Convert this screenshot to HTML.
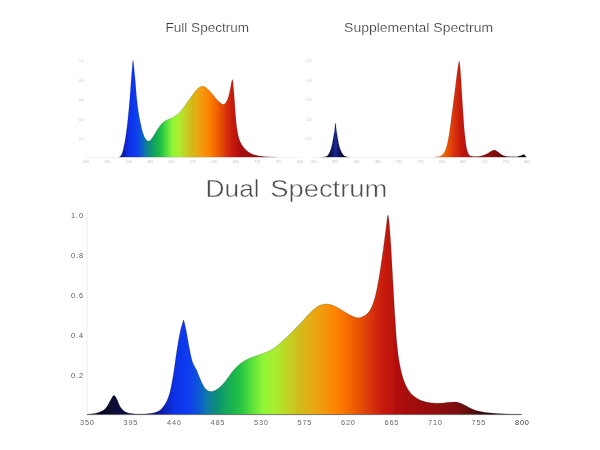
<!DOCTYPE html>
<html><head><meta charset="utf-8"><title>Spectrum</title>
<style>
html,body{margin:0;padding:0;background:#fff;}
body{width:600px;height:450px;overflow:hidden;font-family:"Liberation Sans",sans-serif;}
svg{display:block;}
</style></head><body>
<svg width="600" height="450" viewBox="0 0 600 450">
<defs>
<linearGradient id="gB" gradientUnits="userSpaceOnUse" x1="87" y1="0" x2="521" y2="0"><stop offset="0.0000" stop-color="#05051e"/><stop offset="0.0489" stop-color="#07072a"/><stop offset="0.0778" stop-color="#0c0c44"/><stop offset="0.1222" stop-color="#0b0b50"/><stop offset="0.1667" stop-color="#0d1a9a"/><stop offset="0.2000" stop-color="#0a30e6"/><stop offset="0.2333" stop-color="#0a3cf0"/><stop offset="0.2578" stop-color="#0a58d4"/><stop offset="0.2756" stop-color="#0a78a8"/><stop offset="0.2956" stop-color="#0c8c7c"/><stop offset="0.3222" stop-color="#14a85a"/><stop offset="0.3511" stop-color="#22c044"/><stop offset="0.3756" stop-color="#50dc3c"/><stop offset="0.4044" stop-color="#90f538"/><stop offset="0.4333" stop-color="#aaee30"/><stop offset="0.4622" stop-color="#c0d426"/><stop offset="0.4889" stop-color="#d0bc1c"/><stop offset="0.5156" stop-color="#e4ac14"/><stop offset="0.5444" stop-color="#f4980a"/><stop offset="0.5778" stop-color="#ff8000"/><stop offset="0.6044" stop-color="#f46804"/><stop offset="0.6333" stop-color="#e44c06"/><stop offset="0.6622" stop-color="#d42c0a"/><stop offset="0.6889" stop-color="#c4180c"/><stop offset="0.7156" stop-color="#b20e0c"/><stop offset="0.7444" stop-color="#a40a0a"/><stop offset="0.7778" stop-color="#9a0a0a"/><stop offset="0.8178" stop-color="#8c0a0c"/><stop offset="0.8511" stop-color="#800c10"/><stop offset="0.8844" stop-color="#5a080a"/><stop offset="0.9156" stop-color="#300606"/><stop offset="0.9511" stop-color="#100303"/><stop offset="1.0000" stop-color="#050202"/></linearGradient>
<linearGradient id="gL" gradientUnits="userSpaceOnUse" x1="86" y1="0" x2="300" y2="0"><stop offset="0.0000" stop-color="#05051e"/><stop offset="0.0489" stop-color="#07072a"/><stop offset="0.0778" stop-color="#0c0c44"/><stop offset="0.1222" stop-color="#0b0b50"/><stop offset="0.1667" stop-color="#0d1a9a"/><stop offset="0.2000" stop-color="#0a30e6"/><stop offset="0.2333" stop-color="#0a3cf0"/><stop offset="0.2578" stop-color="#0a58d4"/><stop offset="0.2756" stop-color="#0a78a8"/><stop offset="0.2956" stop-color="#0c8c7c"/><stop offset="0.3222" stop-color="#14a85a"/><stop offset="0.3511" stop-color="#22c044"/><stop offset="0.3756" stop-color="#50dc3c"/><stop offset="0.4044" stop-color="#90f538"/><stop offset="0.4333" stop-color="#aaee30"/><stop offset="0.4622" stop-color="#c0d426"/><stop offset="0.4889" stop-color="#d0bc1c"/><stop offset="0.5156" stop-color="#e4ac14"/><stop offset="0.5444" stop-color="#f4980a"/><stop offset="0.5778" stop-color="#ff8000"/><stop offset="0.6044" stop-color="#f46804"/><stop offset="0.6333" stop-color="#e44c06"/><stop offset="0.6622" stop-color="#d42c0a"/><stop offset="0.6889" stop-color="#c4180c"/><stop offset="0.7156" stop-color="#b20e0c"/><stop offset="0.7444" stop-color="#a40a0a"/><stop offset="0.7778" stop-color="#9a0a0a"/><stop offset="0.8178" stop-color="#8c0a0c"/><stop offset="0.8511" stop-color="#800c10"/><stop offset="0.8844" stop-color="#5a080a"/><stop offset="0.9156" stop-color="#300606"/><stop offset="0.9511" stop-color="#100303"/><stop offset="1.0000" stop-color="#050202"/></linearGradient>
<linearGradient id="gR" gradientUnits="userSpaceOnUse" x1="314" y1="0" x2="528" y2="0"><stop offset="0.0000" stop-color="#05051e"/><stop offset="0.0489" stop-color="#07072a"/><stop offset="0.0778" stop-color="#0c0c44"/><stop offset="0.1222" stop-color="#0b0b50"/><stop offset="0.1667" stop-color="#0d1a9a"/><stop offset="0.2000" stop-color="#0a30e6"/><stop offset="0.2333" stop-color="#0a3cf0"/><stop offset="0.2578" stop-color="#0a58d4"/><stop offset="0.2756" stop-color="#0a78a8"/><stop offset="0.2956" stop-color="#0c8c7c"/><stop offset="0.3222" stop-color="#14a85a"/><stop offset="0.3511" stop-color="#22c044"/><stop offset="0.3756" stop-color="#50dc3c"/><stop offset="0.4044" stop-color="#90f538"/><stop offset="0.4333" stop-color="#aaee30"/><stop offset="0.4622" stop-color="#c0d426"/><stop offset="0.4889" stop-color="#d0bc1c"/><stop offset="0.5156" stop-color="#e4ac14"/><stop offset="0.5444" stop-color="#f4980a"/><stop offset="0.5778" stop-color="#ff8000"/><stop offset="0.6044" stop-color="#f46804"/><stop offset="0.6333" stop-color="#e44c06"/><stop offset="0.6622" stop-color="#d42c0a"/><stop offset="0.6889" stop-color="#c4180c"/><stop offset="0.7156" stop-color="#b20e0c"/><stop offset="0.7444" stop-color="#a40a0a"/><stop offset="0.7778" stop-color="#9a0a0a"/><stop offset="0.8178" stop-color="#8c0a0c"/><stop offset="0.8511" stop-color="#800c10"/><stop offset="0.8844" stop-color="#5a080a"/><stop offset="0.9156" stop-color="#300606"/><stop offset="0.9511" stop-color="#100303"/><stop offset="1.0000" stop-color="#050202"/></linearGradient>
<linearGradient id="gRb" gradientUnits="userSpaceOnUse" x1="327.5" y1="0" x2="343.5" y2="0"><stop offset="0" stop-color="#060626"/><stop offset="0.3" stop-color="#0d1666"/><stop offset="0.5" stop-color="#152692"/><stop offset="0.7" stop-color="#0d1666"/><stop offset="1" stop-color="#060626"/></linearGradient>
<filter id="bl" x="-5%" y="-5%" width="110%" height="110%"><feGaussianBlur stdDeviation="0.45"/></filter>
<filter id="bl2" x="-5%" y="-5%" width="110%" height="110%"><feGaussianBlur stdDeviation="0.6"/></filter>
</defs>
<rect width="600" height="450" fill="#ffffff"/>
<g filter="url(#bl)">
<path d="M119.2,157.0 C119.5,156.7 120.6,156.4 121.2,155.3 C121.8,154.2 122.4,152.7 123.0,150.5 C123.6,148.3 124.2,145.2 124.8,142.0 C125.4,138.8 125.9,135.7 126.5,131.0 C127.1,126.3 127.8,120.7 128.4,114.0 C129.1,107.3 129.8,98.7 130.4,91.0 C131.0,83.3 131.7,73.0 132.2,68.0 C132.7,63.0 132.7,59.0 133.2,61.0 C133.7,63.0 134.6,73.5 135.2,80.0 C135.8,86.5 136.3,94.5 136.9,100.0 C137.5,105.5 138.0,109.2 138.6,113.0 C139.2,116.8 139.8,119.4 140.4,122.5 C141.1,125.6 141.7,128.9 142.5,131.5 C143.3,134.1 144.1,136.4 145.0,138.0 C145.9,139.6 147.0,140.8 148.0,141.0 C149.0,141.2 149.8,140.8 151.0,139.5 C152.2,138.2 153.7,135.6 155.0,133.5 C156.3,131.4 157.7,128.8 159.0,127.0 C160.3,125.2 161.7,123.7 163.0,122.5 C164.3,121.3 165.7,120.7 167.0,120.0 C168.3,119.3 169.7,119.0 171.0,118.3 C172.3,117.6 173.7,116.9 175.0,116.0 C176.3,115.1 177.7,114.3 179.0,113.0 C180.3,111.7 181.7,110.0 183.0,108.3 C184.3,106.5 185.7,104.4 187.0,102.5 C188.3,100.6 189.7,98.8 191.0,97.0 C192.3,95.2 193.7,93.1 195.0,91.5 C196.3,89.9 197.8,88.4 199.0,87.5 C200.2,86.6 201.3,86.3 202.5,86.3 C203.7,86.3 204.6,86.5 206.0,87.5 C207.4,88.5 209.3,90.7 211.0,92.5 C212.7,94.3 214.4,96.8 216.0,98.5 C217.6,100.2 219.2,102.0 220.5,103.0 C221.8,104.0 222.6,104.3 223.5,104.2 C224.4,104.1 225.2,103.8 226.0,102.5 C226.8,101.2 227.8,98.9 228.5,96.5 C229.2,94.1 229.8,90.8 230.5,88.0 C231.2,85.2 231.9,78.7 232.5,79.7 C233.1,80.7 233.5,88.1 234.0,94.0 C234.5,99.9 235.0,109.2 235.5,115.0 C236.0,120.8 236.4,125.1 237.0,129.0 C237.6,132.9 238.2,135.8 239.0,138.5 C239.8,141.2 240.8,143.1 242.0,145.0 C243.2,146.9 244.5,148.6 246.0,150.0 C247.5,151.4 249.0,152.5 251.0,153.5 C253.0,154.5 255.5,155.3 258.0,155.8 C260.5,156.3 263.0,156.5 266.0,156.7 C269.0,156.9 274.3,156.9 276.0,157.0 L276.0,157.3 L119.2,157.3 Z" fill="url(#gL)"/>
<path d="M321.0,157.3 C321.7,157.2 324.0,157.0 325.0,156.8 C326.0,156.6 326.5,156.6 327.2,156.0 C327.9,155.4 328.6,154.6 329.3,153.0 C330.0,151.4 331.0,149.0 331.6,146.7 C332.2,144.3 332.7,141.5 333.1,138.9 C333.6,136.3 334.1,133.7 334.5,131.0 C334.9,128.3 335.2,123.0 335.5,123.0 C335.8,123.0 336.1,128.3 336.5,131.0 C336.9,133.7 337.3,136.3 337.8,138.9 C338.3,141.5 338.7,144.3 339.4,146.7 C340.1,149.0 341.2,151.4 342.0,153.0 C342.8,154.6 343.6,155.4 344.4,156.0 C345.2,156.6 346.1,156.6 347.0,156.8 C347.9,157.0 349.5,157.2 350.0,157.3 L350.0,157.3 L321.0,157.3 Z" fill="url(#gRb)"/>
<path d="M435.0,157.0 C435.8,156.9 438.5,157.0 440.0,156.3 C441.5,155.6 442.9,154.4 444.0,152.9 C445.1,151.4 445.6,149.5 446.3,147.5 C447.0,145.5 447.4,143.9 448.0,141.0 C448.6,138.1 449.2,134.0 449.8,130.0 C450.4,126.0 450.9,121.2 451.5,117.0 C452.1,112.8 452.6,109.1 453.1,105.0 C453.6,100.9 454.2,96.5 454.7,92.5 C455.2,88.5 455.7,84.6 456.1,81.0 C456.6,77.4 457.0,73.8 457.4,71.0 C457.8,68.2 458.1,66.1 458.4,64.5 C458.7,62.9 458.9,61.0 459.2,61.2 C459.5,61.5 459.7,63.5 460.0,66.0 C460.3,68.5 460.6,72.8 460.8,76.5 C461.1,80.2 461.3,84.4 461.5,88.0 C461.7,91.6 461.9,94.5 462.1,98.0 C462.3,101.5 462.6,105.4 462.8,109.0 C463.0,112.6 463.3,116.2 463.5,119.5 C463.7,122.8 464.0,125.8 464.2,128.5 C464.4,131.2 464.6,133.5 464.9,136.0 C465.2,138.5 465.5,141.3 465.8,143.5 C466.1,145.7 466.4,147.4 466.8,149.0 C467.2,150.6 467.6,151.9 468.0,153.0 C468.4,154.1 468.8,154.8 469.5,155.3 C470.2,155.9 470.8,156.1 472.0,156.3 C473.2,156.5 475.3,156.6 477.0,156.5 C478.7,156.4 480.5,156.2 482.0,155.8 C483.5,155.4 484.7,154.9 486.0,154.3 C487.3,153.7 488.7,152.7 490.0,152.0 C491.3,151.3 492.8,150.2 494.0,150.1 C495.2,150.0 496.0,150.7 497.0,151.3 C498.0,151.9 499.0,152.9 500.0,153.6 C501.0,154.3 501.8,155.1 503.0,155.6 C504.2,156.1 505.3,156.3 507.0,156.5 C508.7,156.7 511.2,156.7 513.0,156.7 C514.8,156.7 516.8,156.6 518.0,156.4 C519.2,156.2 519.8,156.1 520.5,155.8 C521.2,155.6 522.0,155.1 522.5,154.9 C523.0,154.7 523.4,154.5 523.8,154.6 C524.2,154.7 524.6,155.0 525.0,155.4 C525.4,155.8 526.1,156.7 526.3,157.0 L526.3,157.3 L435.0,157.3 Z" fill="url(#gR)"/>
<path d="M87.0,414.3 C88.5,414.1 93.3,413.8 96.0,413.2 C98.7,412.6 101.2,411.6 103.0,410.5 C104.8,409.4 105.7,408.3 107.0,406.5 C108.3,404.7 109.8,401.3 111.0,399.5 C112.2,397.7 113.0,395.5 114.0,395.5 C115.0,395.5 116.0,397.7 117.0,399.5 C118.0,401.3 118.8,404.6 120.0,406.5 C121.2,408.4 122.5,409.9 124.0,411.0 C125.5,412.1 126.7,412.7 129.0,413.2 C131.3,413.7 134.8,413.9 138.0,414.0 C141.2,414.1 145.2,414.0 148.0,413.8 C150.8,413.6 153.0,413.2 155.0,412.6 C157.0,412.0 158.5,411.4 160.0,410.3 C161.5,409.2 162.8,407.6 164.0,405.8 C165.2,404.0 166.4,402.1 167.5,399.5 C168.6,396.9 169.6,393.9 170.5,390.0 C171.4,386.1 172.3,381.3 173.2,376.0 C174.1,370.7 175.0,363.7 175.8,358.0 C176.7,352.3 177.5,346.7 178.3,342.0 C179.1,337.3 179.9,333.1 180.6,330.0 C181.3,326.9 182.0,325.2 182.5,323.5 C183.0,321.8 183.2,320.0 183.5,320.0 C183.8,320.0 184.1,321.5 184.6,323.5 C185.1,325.5 185.7,328.4 186.4,332.0 C187.1,335.6 188.0,341.2 188.7,345.0 C189.4,348.8 190.1,352.2 190.7,355.0 C191.3,357.8 191.7,359.6 192.3,361.5 C192.9,363.4 193.7,364.7 194.5,366.3 C195.3,367.9 196.1,369.0 197.0,371.0 C197.9,373.0 199.0,376.2 200.0,378.5 C201.0,380.8 201.9,383.1 203.0,385.0 C204.1,386.9 205.2,388.7 206.5,389.8 C207.8,390.9 208.9,391.5 210.5,391.5 C212.1,391.5 213.8,391.4 216.0,390.0 C218.2,388.6 221.2,386.2 224.0,383.0 C226.8,379.8 230.3,374.2 233.0,371.0 C235.7,367.8 237.7,365.9 240.0,364.0 C242.3,362.1 244.5,360.8 247.0,359.5 C249.5,358.2 252.3,357.3 255.0,356.3 C257.7,355.3 260.2,354.6 263.0,353.5 C265.8,352.4 269.2,351.2 272.0,349.5 C274.8,347.8 277.3,345.8 280.0,343.5 C282.7,341.2 285.3,338.6 288.0,336.0 C290.7,333.4 293.3,330.8 296.0,328.0 C298.7,325.2 301.3,322.3 304.0,319.5 C306.7,316.7 309.5,313.3 312.0,311.0 C314.5,308.7 316.8,307.0 319.0,305.8 C321.2,304.6 323.3,304.1 325.5,304.0 C327.7,303.9 329.6,304.2 332.0,305.0 C334.4,305.8 337.2,307.4 340.0,309.0 C342.8,310.6 346.2,313.1 349.0,314.5 C351.8,315.9 354.7,317.3 357.0,317.7 C359.3,318.1 361.1,317.5 363.0,316.6 C364.9,315.8 366.7,314.5 368.3,312.6 C369.9,310.7 371.1,308.5 372.4,305.2 C373.7,301.9 375.0,297.9 376.1,293.0 C377.2,288.1 378.3,282.1 379.3,276.0 C380.3,269.9 381.3,263.2 382.3,256.5 C383.3,249.8 384.4,241.2 385.1,235.5 C385.9,229.8 386.4,225.4 386.8,222.0 C387.2,218.6 387.4,215.5 387.8,215.3 C388.2,215.1 388.6,216.9 389.0,221.0 C389.4,225.1 390.0,232.5 390.5,240.0 C391.0,247.5 391.5,257.2 392.0,266.0 C392.5,274.8 393.0,284.3 393.5,293.0 C394.0,301.7 394.4,309.3 395.0,318.0 C395.6,326.7 396.2,337.0 397.0,345.0 C397.8,353.0 398.8,360.0 400.0,366.0 C401.2,372.0 402.5,376.8 404.0,381.0 C405.5,385.2 407.2,388.3 409.0,391.0 C410.8,393.7 412.8,395.4 415.0,397.0 C417.2,398.6 419.5,399.9 422.0,400.8 C424.5,401.8 427.2,402.3 430.0,402.7 C432.8,403.1 436.2,403.2 439.0,403.2 C441.8,403.2 444.6,402.8 447.0,402.6 C449.4,402.4 451.6,402.0 453.5,402.0 C455.4,402.0 456.7,402.1 458.5,402.6 C460.3,403.1 462.5,404.1 464.5,405.0 C466.5,405.9 468.2,407.2 470.5,408.2 C472.8,409.2 475.1,410.2 478.0,411.0 C480.9,411.8 484.3,412.4 488.0,412.8 C491.7,413.2 494.5,413.4 500.0,413.7 C505.5,413.9 517.5,414.2 521.0,414.3 L521.0,414.6 L87.0,414.6 Z" fill="url(#gB)"/>
<path d="M87.0,414.3 C88.5,414.1 93.3,413.8 96.0,413.2 C98.7,412.6 101.2,411.6 103.0,410.5 C104.8,409.4 105.7,408.3 107.0,406.5 C108.3,404.7 109.8,401.3 111.0,399.5 C112.2,397.7 113.0,395.5 114.0,395.5 C115.0,395.5 116.0,397.7 117.0,399.5 C118.0,401.3 118.8,404.6 120.0,406.5 C121.2,408.4 122.5,409.9 124.0,411.0 C125.5,412.1 126.7,412.7 129.0,413.2 C131.3,413.7 134.8,413.9 138.0,414.0 C141.2,414.1 145.2,414.0 148.0,413.8 C150.8,413.6 153.0,413.2 155.0,412.6 C157.0,412.0 158.5,411.4 160.0,410.3 C161.5,409.2 162.8,407.6 164.0,405.8 C165.2,404.0 166.4,402.1 167.5,399.5 C168.6,396.9 169.6,393.9 170.5,390.0 C171.4,386.1 172.3,381.3 173.2,376.0 C174.1,370.7 175.0,363.7 175.8,358.0 C176.7,352.3 177.5,346.7 178.3,342.0 C179.1,337.3 179.9,333.1 180.6,330.0 C181.3,326.9 182.0,325.2 182.5,323.5 C183.0,321.8 183.2,320.0 183.5,320.0 C183.8,320.0 184.1,321.5 184.6,323.5 C185.1,325.5 185.7,328.4 186.4,332.0 C187.1,335.6 188.0,341.2 188.7,345.0 C189.4,348.8 190.1,352.2 190.7,355.0 C191.3,357.8 191.7,359.6 192.3,361.5 C192.9,363.4 193.7,364.7 194.5,366.3 C195.3,367.9 196.1,369.0 197.0,371.0 C197.9,373.0 199.0,376.2 200.0,378.5 C201.0,380.8 201.9,383.1 203.0,385.0 C204.1,386.9 205.2,388.7 206.5,389.8 C207.8,390.9 208.9,391.5 210.5,391.5 C212.1,391.5 213.8,391.4 216.0,390.0 C218.2,388.6 221.2,386.2 224.0,383.0 C226.8,379.8 230.3,374.2 233.0,371.0 C235.7,367.8 237.7,365.9 240.0,364.0 C242.3,362.1 244.5,360.8 247.0,359.5 C249.5,358.2 252.3,357.3 255.0,356.3 C257.7,355.3 260.2,354.6 263.0,353.5 C265.8,352.4 269.2,351.2 272.0,349.5 C274.8,347.8 277.3,345.8 280.0,343.5 C282.7,341.2 285.3,338.6 288.0,336.0 C290.7,333.4 293.3,330.8 296.0,328.0 C298.7,325.2 301.3,322.3 304.0,319.5 C306.7,316.7 309.5,313.3 312.0,311.0 C314.5,308.7 316.8,307.0 319.0,305.8 C321.2,304.6 323.3,304.1 325.5,304.0 C327.7,303.9 329.6,304.2 332.0,305.0 C334.4,305.8 337.2,307.4 340.0,309.0 C342.8,310.6 346.2,313.1 349.0,314.5 C351.8,315.9 354.7,317.3 357.0,317.7 C359.3,318.1 361.1,317.5 363.0,316.6 C364.9,315.8 366.7,314.5 368.3,312.6 C369.9,310.7 371.1,308.5 372.4,305.2 C373.7,301.9 375.0,297.9 376.1,293.0 C377.2,288.1 378.3,282.1 379.3,276.0 C380.3,269.9 381.3,263.2 382.3,256.5 C383.3,249.8 384.4,241.2 385.1,235.5 C385.9,229.8 386.4,225.4 386.8,222.0 C387.2,218.6 387.4,215.5 387.8,215.3 C388.2,215.1 388.6,216.9 389.0,221.0 C389.4,225.1 390.0,232.5 390.5,240.0 C391.0,247.5 391.5,257.2 392.0,266.0 C392.5,274.8 393.0,284.3 393.5,293.0 C394.0,301.7 394.4,309.3 395.0,318.0 C395.6,326.7 396.2,337.0 397.0,345.0 C397.8,353.0 398.8,360.0 400.0,366.0 C401.2,372.0 402.5,376.8 404.0,381.0 C405.5,385.2 407.2,388.3 409.0,391.0 C410.8,393.7 412.8,395.4 415.0,397.0 C417.2,398.6 419.5,399.9 422.0,400.8 C424.5,401.8 427.2,402.3 430.0,402.7 C432.8,403.1 436.2,403.2 439.0,403.2 C441.8,403.2 444.6,402.8 447.0,402.6 C449.4,402.4 451.6,402.0 453.5,402.0 C455.4,402.0 456.7,402.1 458.5,402.6 C460.3,403.1 462.5,404.1 464.5,405.0 C466.5,405.9 468.2,407.2 470.5,408.2 C472.8,409.2 475.1,410.2 478.0,411.0 C480.9,411.8 484.3,412.4 488.0,412.8 C491.7,413.2 494.5,413.4 500.0,413.7 C505.5,413.9 517.5,414.2 521.0,414.3" fill="none" stroke="#000" stroke-opacity="0.22" stroke-width="0.9"/>
<path d="M119.2,157.0 C119.5,156.7 120.6,156.4 121.2,155.3 C121.8,154.2 122.4,152.7 123.0,150.5 C123.6,148.3 124.2,145.2 124.8,142.0 C125.4,138.8 125.9,135.7 126.5,131.0 C127.1,126.3 127.8,120.7 128.4,114.0 C129.1,107.3 129.8,98.7 130.4,91.0 C131.0,83.3 131.7,73.0 132.2,68.0 C132.7,63.0 132.7,59.0 133.2,61.0 C133.7,63.0 134.6,73.5 135.2,80.0 C135.8,86.5 136.3,94.5 136.9,100.0 C137.5,105.5 138.0,109.2 138.6,113.0 C139.2,116.8 139.8,119.4 140.4,122.5 C141.1,125.6 141.7,128.9 142.5,131.5 C143.3,134.1 144.1,136.4 145.0,138.0 C145.9,139.6 147.0,140.8 148.0,141.0 C149.0,141.2 149.8,140.8 151.0,139.5 C152.2,138.2 153.7,135.6 155.0,133.5 C156.3,131.4 157.7,128.8 159.0,127.0 C160.3,125.2 161.7,123.7 163.0,122.5 C164.3,121.3 165.7,120.7 167.0,120.0 C168.3,119.3 169.7,119.0 171.0,118.3 C172.3,117.6 173.7,116.9 175.0,116.0 C176.3,115.1 177.7,114.3 179.0,113.0 C180.3,111.7 181.7,110.0 183.0,108.3 C184.3,106.5 185.7,104.4 187.0,102.5 C188.3,100.6 189.7,98.8 191.0,97.0 C192.3,95.2 193.7,93.1 195.0,91.5 C196.3,89.9 197.8,88.4 199.0,87.5 C200.2,86.6 201.3,86.3 202.5,86.3 C203.7,86.3 204.6,86.5 206.0,87.5 C207.4,88.5 209.3,90.7 211.0,92.5 C212.7,94.3 214.4,96.8 216.0,98.5 C217.6,100.2 219.2,102.0 220.5,103.0 C221.8,104.0 222.6,104.3 223.5,104.2 C224.4,104.1 225.2,103.8 226.0,102.5 C226.8,101.2 227.8,98.9 228.5,96.5 C229.2,94.1 229.8,90.8 230.5,88.0 C231.2,85.2 231.9,78.7 232.5,79.7 C233.1,80.7 233.5,88.1 234.0,94.0 C234.5,99.9 235.0,109.2 235.5,115.0 C236.0,120.8 236.4,125.1 237.0,129.0 C237.6,132.9 238.2,135.8 239.0,138.5 C239.8,141.2 240.8,143.1 242.0,145.0 C243.2,146.9 244.5,148.6 246.0,150.0 C247.5,151.4 249.0,152.5 251.0,153.5 C253.0,154.5 255.5,155.3 258.0,155.8 C260.5,156.3 263.0,156.5 266.0,156.7 C269.0,156.9 274.3,156.9 276.0,157.0 L276.0,157.4 L119.2,157.4 Z" fill="none" stroke="#000" stroke-opacity="0.2" stroke-width="0.6"/>
<path d="M321.0,157.3 C321.7,157.2 324.0,157.0 325.0,156.8 C326.0,156.6 326.5,156.6 327.2,156.0 C327.9,155.4 328.6,154.6 329.3,153.0 C330.0,151.4 331.0,149.0 331.6,146.7 C332.2,144.3 332.7,141.5 333.1,138.9 C333.6,136.3 334.1,133.7 334.5,131.0 C334.9,128.3 335.2,123.0 335.5,123.0 C335.8,123.0 336.1,128.3 336.5,131.0 C336.9,133.7 337.3,136.3 337.8,138.9 C338.3,141.5 338.7,144.3 339.4,146.7 C340.1,149.0 341.2,151.4 342.0,153.0 C342.8,154.6 343.6,155.4 344.4,156.0 C345.2,156.6 346.1,156.6 347.0,156.8 C347.9,157.0 349.5,157.2 350.0,157.3 L350.0,157.4 L321.0,157.4 Z" fill="none" stroke="#000" stroke-opacity="0.2" stroke-width="0.6"/>
<path d="M435.0,157.0 C435.8,156.9 438.5,157.0 440.0,156.3 C441.5,155.6 442.9,154.4 444.0,152.9 C445.1,151.4 445.6,149.5 446.3,147.5 C447.0,145.5 447.4,143.9 448.0,141.0 C448.6,138.1 449.2,134.0 449.8,130.0 C450.4,126.0 450.9,121.2 451.5,117.0 C452.1,112.8 452.6,109.1 453.1,105.0 C453.6,100.9 454.2,96.5 454.7,92.5 C455.2,88.5 455.7,84.6 456.1,81.0 C456.6,77.4 457.0,73.8 457.4,71.0 C457.8,68.2 458.1,66.1 458.4,64.5 C458.7,62.9 458.9,61.0 459.2,61.2 C459.5,61.5 459.7,63.5 460.0,66.0 C460.3,68.5 460.6,72.8 460.8,76.5 C461.1,80.2 461.3,84.4 461.5,88.0 C461.7,91.6 461.9,94.5 462.1,98.0 C462.3,101.5 462.6,105.4 462.8,109.0 C463.0,112.6 463.3,116.2 463.5,119.5 C463.7,122.8 464.0,125.8 464.2,128.5 C464.4,131.2 464.6,133.5 464.9,136.0 C465.2,138.5 465.5,141.3 465.8,143.5 C466.1,145.7 466.4,147.4 466.8,149.0 C467.2,150.6 467.6,151.9 468.0,153.0 C468.4,154.1 468.8,154.8 469.5,155.3 C470.2,155.9 470.8,156.1 472.0,156.3 C473.2,156.5 475.3,156.6 477.0,156.5 C478.7,156.4 480.5,156.2 482.0,155.8 C483.5,155.4 484.7,154.9 486.0,154.3 C487.3,153.7 488.7,152.7 490.0,152.0 C491.3,151.3 492.8,150.2 494.0,150.1 C495.2,150.0 496.0,150.7 497.0,151.3 C498.0,151.9 499.0,152.9 500.0,153.6 C501.0,154.3 501.8,155.1 503.0,155.6 C504.2,156.1 505.3,156.3 507.0,156.5 C508.7,156.7 511.2,156.7 513.0,156.7 C514.8,156.7 516.8,156.6 518.0,156.4 C519.2,156.2 519.8,156.1 520.5,155.8 C521.2,155.6 522.0,155.1 522.5,154.9 C523.0,154.7 523.4,154.5 523.8,154.6 C524.2,154.7 524.6,155.0 525.0,155.4 C525.4,155.8 526.1,156.7 526.3,157.0 L526.3,157.4 L435.0,157.4 Z" fill="none" stroke="#000" stroke-opacity="0.2" stroke-width="0.6"/>
</g>
<g filter="url(#bl)">
<line x1="87" y1="210" x2="87" y2="414.5" stroke="#ebebeb" stroke-width="1"/>
<line x1="87" y1="414.6" x2="522" y2="414.6" stroke="#555" stroke-width="0.8"/>
</g>
<g filter="url(#bl)" font-family="Liberation Sans, sans-serif" font-size="7.4" fill="#666" text-anchor="middle" letter-spacing="0.7">
<text x="87.3" y="425.2">350</text>
<text x="130.8" y="425.2">395</text>
<text x="174.3" y="425.2">440</text>
<text x="217.8" y="425.2">485</text>
<text x="261.3" y="425.2">530</text>
<text x="304.8" y="425.2">575</text>
<text x="348.3" y="425.2">620</text>
<text x="391.8" y="425.2">665</text>
<text x="435.3" y="425.2">710</text>
<text x="478.8" y="425.2">755</text>
<text x="522.3" y="425.2" fill="#3a3a3a">800</text>
</g>
<g filter="url(#bl)" font-family="Liberation Sans, sans-serif" font-size="7.4" fill="#5a5a5a" text-anchor="end" letter-spacing="0.9">
<text x="84" y="217.7">1.0</text>
<text x="84" y="257.7">0.8</text>
<text x="84" y="297.7">0.6</text>
<text x="84" y="337.7">0.4</text>
<text x="84" y="377.7">0.2</text>
</g>
<g filter="url(#bl2)" font-family="Liberation Sans, sans-serif" font-size="3.6" fill="#c0c0c0" text-anchor="middle">
<text x="86.0" y="163.2">350</text>
<text x="314.0" y="163.2">350</text>
<text x="107.4" y="163.2">395</text>
<text x="335.3" y="163.2">395</text>
<text x="128.8" y="163.2">440</text>
<text x="356.6" y="163.2">440</text>
<text x="150.2" y="163.2">485</text>
<text x="377.9" y="163.2">485</text>
<text x="171.6" y="163.2">530</text>
<text x="399.2" y="163.2">530</text>
<text x="193.0" y="163.2">575</text>
<text x="420.5" y="163.2">575</text>
<text x="214.4" y="163.2">620</text>
<text x="441.8" y="163.2">620</text>
<text x="235.8" y="163.2">665</text>
<text x="463.1" y="163.2">665</text>
<text x="257.2" y="163.2">710</text>
<text x="484.4" y="163.2">710</text>
<text x="278.6" y="163.2">755</text>
<text x="505.7" y="163.2">755</text>
<text x="300.0" y="163.2">800</text>
<text x="527.0" y="163.2">800</text>
<text x="81.5" y="62.3">1.0</text>
<text x="309" y="62.3">1.0</text>
<text x="81.5" y="81.6">0.8</text>
<text x="309" y="81.6">0.8</text>
<text x="81.5" y="101.1">0.6</text>
<text x="309" y="101.1">0.6</text>
<text x="81.5" y="120.6">0.4</text>
<text x="309" y="120.6">0.4</text>
<text x="81.5" y="140.10000000000002">0.2</text>
<text x="309" y="140.10000000000002">0.2</text>
</g>
<line x1="86" y1="157.5" x2="300" y2="157.5" stroke="#e6e6e6" stroke-width="0.6"/>
<line x1="314" y1="157.5" x2="527" y2="157.5" stroke="#e6e6e6" stroke-width="0.6"/>
<g filter="url(#bl)" font-family="Liberation Sans, sans-serif">
<text x="207.3" y="32.1" font-size="13.6" fill="#3a3a3a" stroke="#fff" stroke-width="0.2" text-anchor="middle" textLength="83.5" lengthAdjust="spacingAndGlyphs">Full Spectrum</text>
<text x="418.6" y="32.1" font-size="13.6" fill="#3a3a3a" stroke="#fff" stroke-width="0.2" text-anchor="middle" textLength="149" lengthAdjust="spacingAndGlyphs">Supplemental Spectrum</text>
<text x="205.6" y="197.3" font-size="24.4" fill="#4c4c4c" stroke="#fff" stroke-width="0.45" textLength="54" lengthAdjust="spacingAndGlyphs">Dual</text>
<text x="270.2" y="197.3" font-size="24.4" fill="#4c4c4c" stroke="#fff" stroke-width="0.45" textLength="117.2" lengthAdjust="spacingAndGlyphs">Spectrum</text>
</g>
</svg>
</body></html>
